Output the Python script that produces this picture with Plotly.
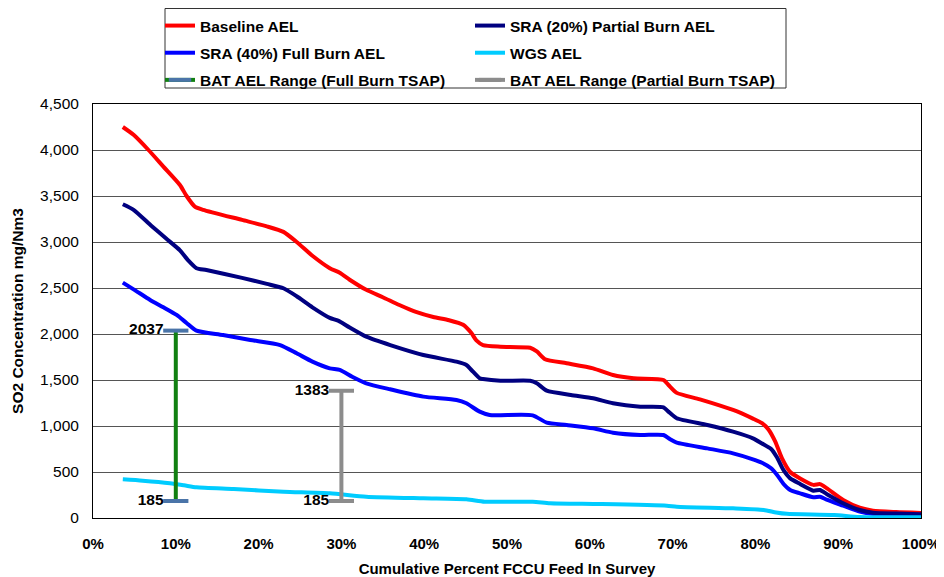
import plotly.graph_objects as go

# ---------------- data ----------------
base_x = [3.6, 4.9, 6.7, 8.5, 10.5, 11.3, 12.3, 13.3, 18, 21, 23.0, 24.6, 26.5, 28.6, 29.8, 31, 33, 35, 37, 39,
          41.1, 43, 44.7, 45.7, 46.3, 47.1, 49.2, 52.8, 53.6, 54.6, 57.2, 60.4, 62.8, 65.3, 68.9, 69.5, 70.5,
          73.3, 77.3, 79.7, 80.8, 81.6, 82.4, 83.2, 84.2, 85.4, 87.0, 87.8, 88.6, 90.6, 92.6, 94.2, 97, 100]
base_y = [4250, 4165, 4000, 3820, 3620, 3500, 3385, 3350, 3240, 3170, 3110, 3000, 2850, 2715, 2665, 2590, 2480,
          2400, 2315, 2240, 2185, 2150, 2100, 2010, 1930, 1880, 1862, 1850, 1810, 1725, 1682, 1627, 1554, 1518,
          1500, 1446, 1360, 1290, 1174, 1080, 1030, 960, 830, 650, 500, 430, 360, 368, 325, 196, 112, 80, 65, 55]

sra20_x = [3.6, 4.9, 7, 8.8, 10.5, 11.5, 12.5, 13.7, 18, 21, 23.0, 24.6, 26.5, 28.6, 29.6, 31, 33, 35.9, 39.9,
           43.9, 45.1, 45.7, 46.7, 47.1, 49.2, 52.8, 53.6, 54.8, 57.7, 60.4, 62.8, 66.1, 68.9, 69.5, 70.5, 74.2,
           77.3, 79.7, 80.8, 81.9, 82.6, 83.4, 84.2, 85.4, 87.0, 87.8, 88.6, 90.6, 92.6, 94.2, 97, 100]
sra20_y = [3410, 3350, 3180, 3040, 2910, 2800, 2715, 2695, 2610, 2545, 2497, 2410, 2290, 2175, 2145, 2070, 1971,
           1880, 1772, 1699, 1663, 1609, 1519, 1511, 1492, 1492, 1465, 1384, 1337, 1301, 1247, 1210, 1203, 1156,
           1084, 1011, 938, 866, 810, 750, 660, 520, 431, 370, 297, 304, 261, 160, 87, 58, 48, 42]

sra40_x = [3.6, 5, 6.9, 8.5, 10.1, 11.3, 12.5, 15.7, 19, 22.6, 24.6, 26.5, 28.6, 29.8, 31.3, 33.0, 35.9, 39.9,
           43.9, 45.1, 46.7, 47.9, 53.1, 54.8, 57.2, 60.4, 62.8, 66.1, 68.9, 69.7, 70.5, 74.2, 77.3, 79.7, 80.8,
           81.9, 82.6, 83.4, 84.2, 85.4, 87.0, 87.8, 88.6, 90.6, 92.6, 94.2, 97, 100]
sra40_y = [2558, 2480, 2370, 2290, 2207, 2120, 2036, 1989, 1935, 1880, 1790, 1700, 1627, 1609, 1535, 1464, 1399,
           1319, 1283, 1247, 1156, 1120, 1116, 1036, 1011, 975, 927, 902, 902, 855, 819, 757, 703, 638, 600, 540,
           470, 370, 304, 268, 225, 232, 200, 134, 69, 43, 36, 33]

wgs_x = [3.6, 6, 9.3, 11, 12.5, 17, 23.0, 28.6, 33.0, 39.9, 45.1, 47.3, 53.1, 55.2, 61.2, 69.3, 70.5, 77.3, 81,
         82.5, 83.8, 89.5, 92.6, 100]
wgs_y = [420, 405, 377, 355, 334, 315, 286, 268, 232, 214, 203, 177, 177, 160, 152, 134, 123, 105, 88, 60, 45, 33,
         10, 8]

full_x = [10, 10]
full_y = [185, 2037]
partial_x = [30, 30]
partial_y = [185, 1383]

x_ticks = [0, 10, 20, 30, 40, 50, 60, 70, 80, 90, 100]
x_tick_labels = ["0%", "10%", "20%", "30%", "40%", "50%", "60%", "70%", "80%", "90%", "100%"]
y_ticks = [0, 500, 1000, 1500, 2000, 2500, 3000, 3500, 4000, 4500]

FONT = "Liberation Sans, Arial, sans-serif"

# page body has an 8px margin, so the figure is sized to fit inside 944x577
W, H = 936, 569
ML, MR, MT, MB = 85, 23, 96, 59
PW, PH = W - ML - MR, H - MT - MB


def px_x(v):  # viewport pixel -> paper x
    return (v - 8 - ML) / PW


def px_y(v):  # viewport pixel -> paper y
    return 1 + (MT - (v - 8)) / PH


fig = go.Figure()


def curve(x, y, name, color, legend, group):
    fig.add_trace(go.Scatter(x=x, y=y, name=name, mode="lines",
                             line=dict(color=color, width=4, shape="spline", smoothing=0.6),
                             legend=legend, legendgroup=group))


curve(base_x, base_y, "<b>Baseline AEL</b>", "#FF0000", "legend", "a")
curve(sra40_x, sra40_y, "<b>SRA (40%) Full Burn AEL</b>", "#0000FF", "legend", "b")
curve(sra20_x, sra20_y, "<b>SRA (20%) Partial Burn AEL</b>", "#000080", "legend2", "d")
curve(wgs_x, wgs_y, "<b>WGS AEL</b>", "#00CCFF", "legend2", "e")

fig.add_trace(go.Scatter(
    x=full_x, y=full_y, name="<b>BAT AEL Range (Full Burn TSAP)</b>", mode="lines+markers+text",
    line=dict(color="#118011", width=4),
    marker=dict(symbol="line-ew", size=18, line=dict(color="#4A74A8", width=4), color="#4A74A8"),
    text=[f"<b>{v}</b>" for v in full_y], textposition="middle left",
    textfont=dict(family=FONT, size=15.5, color="black"),
    legend="legend", legendgroup="c"))

fig.add_trace(go.Scatter(
    x=partial_x, y=partial_y, name="<b>BAT AEL Range (Partial Burn TSAP)</b>", mode="lines+markers+text",
    line=dict(color="#8C8C8C", width=4),
    marker=dict(symbol="line-ew", size=18, line=dict(color="#8C8C8C", width=4), color="#8C8C8C"),
    text=[f"<b>{v}</b>" for v in partial_y], textposition="middle left",
    textfont=dict(family=FONT, size=15.5, color="black"),
    legend="legend2", legendgroup="f"))

legend_common = dict(orientation="v", yanchor="top", xanchor="left", bgcolor="rgba(0,0,0,0)",
                     borderwidth=0, tracegroupgap=4, itemsizing="trace",
                     font=dict(family=FONT, size=15.5, color="black"))

fig.update_layout(
    width=W, height=H,
    margin=dict(l=ML, r=MR, t=MT, b=MB, autoexpand=False),
    paper_bgcolor="white", plot_bgcolor="white",
    font=dict(family=FONT, size=15, color="black"),
    showlegend=True,
    legend=dict(x=px_x(160), y=px_y(9), **legend_common),
    legend2=dict(x=px_x(470), y=px_y(9), **legend_common),
    xaxis=dict(range=[0, 100], tickvals=x_ticks, ticktext=[f"<b>{t}</b>" for t in x_tick_labels],
               showgrid=False, zeroline=False, showline=True, linecolor="black", linewidth=1, mirror=True,
               ticks="outside", ticklen=12, tickcolor="rgba(0,0,0,0)",
               tickfont=dict(family=FONT, size=15, color="black"),
               title=dict(text="<b>Cumulative Percent FCCU Feed In Survey</b>", standoff=13,
                          font=dict(family=FONT, size=15, color="black"))),
    yaxis=dict(range=[0, 4500], tickvals=y_ticks, tickformat=",d",
               showgrid=True, gridcolor="#555555", gridwidth=1, zeroline=False,
               showline=True, linecolor="black", linewidth=1, mirror=True,
               ticks="outside", ticklen=10, tickcolor="rgba(0,0,0,0)",
               tickfont=dict(family=FONT, size=15.5, color="black"),
               title=dict(text="<b>SO2 Concentration mg/Nm3</b>", standoff=12,
                          font=dict(family=FONT, size=15.5, color="black"))),
    shapes=[dict(type="rect", xref="paper", yref="paper",
                 x0=px_x(165), x1=px_x(786), y0=px_y(88), y1=px_y(8.5),
                 line=dict(color="#333333", width=1), fillcolor="rgba(0,0,0,0)", layer="below")],
)
fig.update_yaxes(tickprefix="<b>", ticksuffix="</b>")

fig.write_html("out.html")
